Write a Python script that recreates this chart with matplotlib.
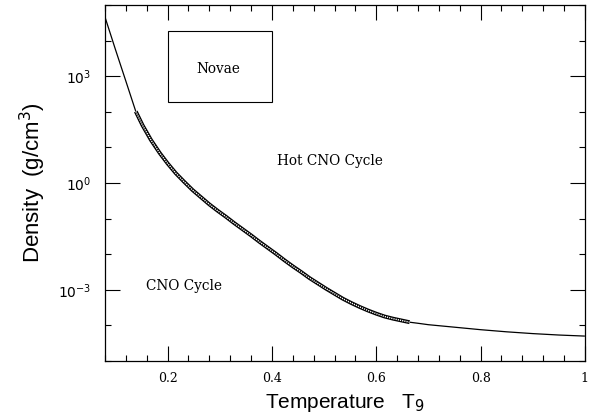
import numpy as np
import matplotlib
matplotlib.use("Agg")
import matplotlib.pyplot as plt
from matplotlib.patches import Rectangle
from matplotlib.ticker import FixedLocator, NullFormatter

# Boundary curve (Temperature T9, log10 density)
curve_T = [0.080, 0.100, 0.120, 0.139, 0.152, 0.168, 0.185, 0.200, 0.216, 0.232,
           0.248, 0.264, 0.280, 0.296, 0.312, 0.328, 0.344, 0.360, 0.376, 0.392,
           0.408, 0.424, 0.440, 0.456, 0.472, 0.488, 0.504, 0.520, 0.536, 0.552,
           0.568, 0.584, 0.600, 0.616, 0.632, 0.648, 0.664, 0.680, 0.700, 0.750,
           0.800, 0.850, 0.900, 0.950, 1.000]
curve_logrho = [4.66, 3.75, 2.86, 2.01, 1.62, 1.21, 0.84, 0.55, 0.27, 0.03,
                -0.20, -0.40, -0.60, -0.78, -0.95, -1.13, -1.30, -1.47, -1.65, -1.82,
                -1.99, -2.17, -2.34, -2.50, -2.67, -2.82, -2.97, -3.11, -3.25, -3.37,
                -3.48, -3.58, -3.67, -3.75, -3.81, -3.86, -3.91, -3.94, -3.98, -4.05,
                -4.12, -4.18, -4.23, -4.27, -4.30]
band_start, band_end = 0.139, 0.664

# Novae box (T range, density range)
novae_T = [0.20, 0.40]
novae_rho = [10 ** 2.28, 10 ** 4.28]

labels = [("Novae", 0.297, 10**3.2), ("Hot CNO Cycle", 0.512, 10**0.62), ("CNO Cycle", 0.232, 10**-2.9)]

xticks_major = [0.2, 0.4, 0.6, 0.8, 1.0]
xtick_labels = ["0.2", "0.4", "0.6", "0.8", "1"]
yticks_major = [1e-3, 1e0, 1e3]
ytick_labels = [r"$10^{-3}$", r"$10^{0}$", r"$10^{3}$"]

fig = plt.figure(figsize=(5.95, 4.19), dpi=100)
ax = fig.add_axes([0.1765, 0.1384, 0.8065, 0.8496])

T = np.array(curve_T)
rho = 10 ** np.array(curve_logrho)

ax.plot(T, rho, color="black", lw=0.9, solid_capstyle="butt")
mask = (T >= band_start) & (T <= band_end)
ax.plot(T[mask], rho[mask], color="black", lw=2.8, solid_capstyle="butt", solid_joinstyle="round")
ax.plot(T[mask], rho[mask], color="white", lw=1.0, dashes=(0.9, 0.7), solid_capstyle="butt")

ax.add_patch(Rectangle((novae_T[0], novae_rho[0]), novae_T[1] - novae_T[0],
                       novae_rho[1] - novae_rho[0], fill=False, edgecolor="black", lw=0.8))

for txt, x, y in labels:
    ax.text(x, y, txt, ha="center", va="center", fontsize=9.8, family="DejaVu Serif")

ax.set_yscale("log")
ax.set_xlim(0.08, 1.0)
ax.set_ylim(1e-5, 1e5)

ax.xaxis.set_major_locator(FixedLocator(xticks_major))
ax.set_xticklabels(xtick_labels, family="DejaVu Serif", fontsize=9)
ax.xaxis.set_minor_locator(FixedLocator(np.arange(0.08, 1.0001, 0.04)))
ax.yaxis.set_major_locator(FixedLocator(yticks_major))
ax.set_yticklabels(ytick_labels, fontsize=10)
ax.yaxis.set_minor_locator(FixedLocator([10.0 ** k for k in range(-5, 6)]))
ax.yaxis.set_minor_formatter(NullFormatter())

ax.tick_params(which="both", direction="in", top=True, right=True, color="black")
ax.tick_params(which="major", length=11, width=0.8)
ax.tick_params(which="minor", length=4, width=0.8)
ax.tick_params(axis="x", which="major", pad=8)
ax.tick_params(axis="y", which="major", pad=10)

for s in ax.spines.values():
    s.set_linewidth(0.9)

ax.set_xlabel(r"Temperature   T$_9$", fontsize=15, family="Liberation Sans", labelpad=5)
ax.set_ylabel(r"Density  (g/cm$^3$)", fontsize=16, family="Liberation Sans", labelpad=7)

fig.savefig("out.png", dpi=100)
